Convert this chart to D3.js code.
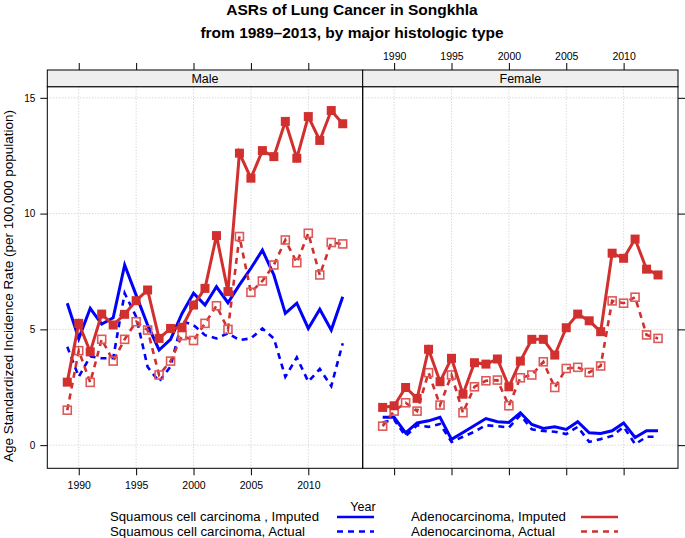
<!DOCTYPE html>
<html><head><meta charset="utf-8">
<script src="https://cdn.jsdelivr.net/npm/d3@7"></script>
<style>body{margin:0;background:#fff;} text{font-family:"Liberation Sans",Arial,Helvetica,sans-serif;}</style>
</head><body><svg id="c" width="685" height="538"></svg>
<script>
const years = d3.range(1989, 2014);
const panels = ["Male", "Female"];
const maleSqImputed = [6.13,4.6,5.91,5.23,5.5,7.78,6.48,5.19,4.11,4.57,5.69,6.56,6.05,6.84,6.15,6.92,7.64,8.42,7.35,5.69,6.13,5.04,5.87,4.97,6.41];
const maleSqActual  = [4.25,2.95,3.83,3.75,3.76,6.56,5.55,3.38,2.74,3.4,5.35,5.19,4.75,4.61,4.83,4.54,4.61,5.04,4.61,2.95,3.79,2.74,3.29,2.55,4.4];
const maleAdImputed = [2.72,5.26,4.03,5.66,5.19,5.65,6.24,6.7,4.61,5.04,5.09,6.05,6.77,9.05,6.63,12.61,11.53,12.72,12.46,13.98,12.39,14.19,13.16,14.45,13.88];
const maleAdActual  = [1.51,4.08,2.71,4.57,3.63,4.57,5.33,4.97,3.03,3.63,4.73,4.52,5.26,6.02,5.0,9.01,6.6,7.09,7.78,8.86,7.88,9.15,7.35,8.75,8.69];
const femSqImputed  = [1.2,1.2,0.53,0.96,1.05,1.2,0.25,0.55,0.85,1.15,1.01,0.98,1.4,0.89,0.72,0.79,0.68,1.01,0.53,0.5,0.62,0.96,0.33,0.62,0.62];
const femSqActual   = [0.98,1.1,0.39,0.86,0.79,0.91,0.14,0.36,0.58,0.86,0.82,0.76,1.3,0.68,0.61,0.58,0.48,0.79,0.14,0.26,0.4,0.79,0.04,0.36,0.36];
const femAdImputed  = [1.63,1.7,2.49,2.02,4.14,2.74,3.75,2.2,3.56,3.5,3.72,2.52,3.63,4.57,4.57,3.89,5.07,5.66,5.37,4.9,8.29,8.07,8.9,7.6,7.35];
const femAdActual   = [0.82,1.47,1.83,1.47,3.13,1.73,3.03,1.4,2.52,2.78,2.81,1.7,2.91,3.03,3.6,2.49,3.31,3.36,3.14,3.42,6.23,6.13,6.39,4.76,4.61];
const xTicks = [1990,1995,2000,2005,2010];
const yTicks = [0,5,10,15];
const seriesNames = ["Squamous cell carcinoma , Imputed","Squamous cell carcinoma, Actual","Adenocarcinoma, Imputed","Adenocarcinoma, Actual"];

const BLUE = "#0000ff", RED = "#d1302f";
const svg = d3.select("#c");
const pTop = 86.7, pBot = 468.3;
const px = [[47.3, 362.7],[362.7, 678]];
const y = d3.scaleLinear().domain([-1.0, 15.48]).range([pBot, pTop]);
const xs = px.map(r => d3.scaleLinear().domain([1987.26, 2014.74]).range(r));

const data = [
  {sq:[maleSqImputed, maleSqActual], ad:[maleAdImputed, maleAdActual]},
  {sq:[femSqImputed, femSqActual], ad:[femAdImputed, femAdActual]}
];

svg.append("text").attr("x",352).attr("y",15).attr("text-anchor","middle").attr("font-weight","bold").attr("font-size","15.5px").text("ASRs of Lung Cancer in Songkhla");
svg.append("text").attr("x",352).attr("y",38).attr("text-anchor","middle").attr("font-weight","bold").attr("font-size","15.5px").text("from 1989\u20132013, by major histologic type");

panels.forEach((name, i) => {
  const x = xs[i];
  const g = svg.append("g");
  g.selectAll(".gx").data(xTicks).join("line").attr("x1",d=>x(d)).attr("x2",d=>x(d)).attr("y1",pTop).attr("y2",pBot)
    .attr("stroke","#c8c8c8").attr("stroke-width",1).attr("stroke-dasharray","1,2");
  g.selectAll(".gy").data(yTicks).join("line").attr("x1",px[i][0]).attr("x2",px[i][1]).attr("y1",d=>y(d)).attr("y2",d=>y(d))
    .attr("stroke","#c8c8c8").attr("stroke-width",1).attr("stroke-dasharray","1,2");

  const clip = "clip"+i;
  svg.append("clipPath").attr("id",clip).append("rect").attr("x",px[i][0]).attr("y",pTop).attr("width",px[i][1]-px[i][0]).attr("height",pBot-pTop);
  const pg = svg.append("g").attr("clip-path",`url(#${clip})`);
  const line = d3.line().x((d,j)=>x(years[j])).y(d=>y(d));
  const d = data[i];
  pg.append("path").attr("d",line(d.sq[1])).attr("fill","none").attr("stroke",BLUE).attr("stroke-width",2.6).attr("stroke-dasharray","6,5");
  pg.append("path").attr("d",line(d.sq[0])).attr("fill","none").attr("stroke",BLUE).attr("stroke-width",3);
  pg.append("path").attr("d",line(d.ad[1])).attr("fill","none").attr("stroke",RED).attr("stroke-width",2.6).attr("stroke-dasharray","6,5");
  pg.selectAll(".oa").data(d.ad[1]).join("rect").attr("x",(v,j)=>x(years[j])-4).attr("y",v=>y(v)-4).attr("width",8).attr("height",8)
    .attr("fill","none").attr("stroke","#de5a5a").attr("stroke-width",1.6);
  pg.append("path").attr("d",line(d.ad[0])).attr("fill","none").attr("stroke",RED).attr("stroke-width",3);
  pg.selectAll(".fa").data(d.ad[0]).join("rect").attr("x",(v,j)=>x(years[j])-4.5).attr("y",v=>y(v)-4.5).attr("width",9).attr("height",9)
    .attr("fill",RED);

  svg.append("rect").attr("x",px[i][0]).attr("y",pTop).attr("width",px[i][1]-px[i][0]).attr("height",pBot-pTop).attr("fill","none").attr("stroke","#000").attr("stroke-width",1);
  svg.append("rect").attr("x",px[i][0]).attr("y",70).attr("width",px[i][1]-px[i][0]).attr("height",pTop-70).attr("fill","#efefef").attr("stroke","#000").attr("stroke-width",1);
  svg.append("text").attr("x",(px[i][0]+px[i][1])/2).attr("y",83).attr("text-anchor","middle").attr("font-size","12.5px").text(name);

  const bAx = d3.axisBottom(x).tickValues(xTicks).tickSize(7).tickSizeOuter(0).tickFormat(i===0 ? d3.format("d") : ()=>"");
  const tAx = d3.axisTop(x).tickValues(xTicks).tickSize(7).tickSizeOuter(0).tickFormat(i===1 ? d3.format("d") : ()=>"");
  const bg = svg.append("g").attr("transform",`translate(0,${pBot})`).call(bAx);
  const tg = svg.append("g").attr("transform",`translate(0,70)`).call(tAx);
  [bg,tg].forEach(a=>{a.select(".domain").remove(); a.selectAll("line").attr("stroke","#000"); a.selectAll("text").attr("font-size","10.5px").attr("font-family","Liberation Sans, Arial, sans-serif").attr("fill","#000");});
  bg.selectAll("text").attr("dy","1.05em");
});

const lAx = d3.axisLeft(y).tickValues(yTicks).tickSize(7).tickSizeOuter(0).tickFormat(d3.format("d"));
const lg = svg.append("g").attr("transform",`translate(${px[0][0]},0)`).call(lAx);
const rAx = d3.axisRight(y).tickValues(yTicks).tickSize(7).tickSizeOuter(0).tickFormat(()=>"");
const rg = svg.append("g").attr("transform",`translate(${px[1][1]},0)`).call(rAx);
[lg,rg].forEach(a=>{a.select(".domain").remove(); a.selectAll("line").attr("stroke","#000"); a.selectAll("text").attr("font-size","10px").attr("font-family","Liberation Sans, Arial, sans-serif").attr("fill","#000");});
lg.selectAll("text").attr("dx","-0.2em");

svg.append("text").attr("transform","translate(13,286) rotate(-90)").attr("text-anchor","middle").attr("font-size","13.5px")
  .text("Age Standardized Incidence Rate (per 100,000 population)");

svg.append("text").attr("x",363).attr("y",511).attr("text-anchor","middle").attr("font-size","12.5px").text("Year");
const leg = [
  {t:seriesNames[0], x:110, w:209, lx:337, y:517, c:BLUE, dash:null},
  {t:seriesNames[1], x:110, w:195, lx:337, y:531.5, c:BLUE, dash:"6,5"},
  {t:seriesNames[2], x:411, w:155, lx:581, y:517, c:RED, dash:null},
  {t:seriesNames[3], x:411, w:144, lx:581, y:531.5, c:RED, dash:"6,5"}
];
leg.forEach(l=>{
  svg.append("text").attr("x",l.x).attr("y",l.y+4.3).attr("font-size","12.3px")
    .attr("textLength",l.w).attr("lengthAdjust","spacingAndGlyphs").text(l.t);
  svg.append("line").attr("x1",l.lx).attr("x2",l.lx+37).attr("y1",l.y).attr("y2",l.y).attr("stroke",l.c).attr("stroke-width",2.5).attr("stroke-dasharray",l.dash);
});
</script></body></html>
